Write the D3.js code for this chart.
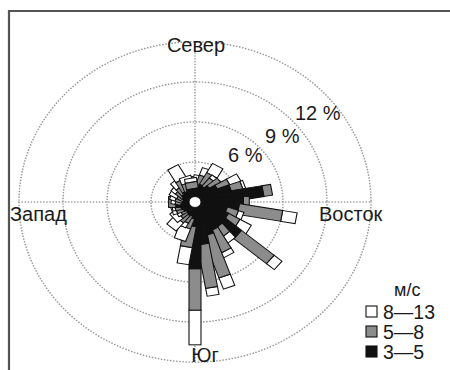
<!DOCTYPE html>
<html><head><meta charset="utf-8">
<script src="https://cdn.jsdelivr.net/npm/d3@7"></script>
<style>body{margin:0;background:#fff}svg{display:block}</style>
</head><body>
<svg id="chart" width="450" height="370"></svg>
<script>
// Wind directions, degrees clockwise from north
const directions = d3.range(0, 360, 10);
// Frequency (%) of each speed class per direction
const speed3to5 = [1.3,1.0,1.2,1.3,1.2,1.4,1.8,2.6,4.7,3.3,3.0,2.2,2.4,3.8,2.4,2.4,2.6,3.2,5.0,1.8,1.2,1.0,1.0,0.9,0.8,0.9,1.0,1.3,0.9,0.8,0.7,0.8,0.9,1.0,0.9,1.0];
const speed5to8 = [0.6,0.6,0.8,1.0,0.8,0.9,0.9,0.8,0.6,0.4,3.0,0.8,0.9,2.9,0.8,1.8,3.3,3.3,3.1,1.6,0.8,0.6,0.7,0.5,0.4,0.5,0.4,0.5,0.4,0.5,0.5,0.6,0.6,0.9,0.6,0.5];
const speed8to13 = [0.0,0.4,0.6,0.8,0.3,0.0,0.8,0.2,0.0,0.0,1.0,0.4,0.9,0.7,0.6,0.4,0.9,0.6,2.6,1.3,1.0,0.4,0.8,0.5,0.3,0.3,0.2,0.0,0.3,0.4,0.6,0.4,0.6,1.1,0.5,0.3];
const ringTicks = [3, 6, 9, 12];
const ringLabels = ["6 %", "9 %", "12 %"];
const compassLabels = ["Север", "Восток", "Юг", "Запад"];
const speedClasses = ["8—13", "5—8", "3—5"];
const legendTitle = "м/с";

const svg = d3.select("#chart");
const cx = 195, cy = 202, squash = 0.91, hole = 6;
const r = d3.scaleLinear().domain([0, 12]).range([0, 176]);
const fill = d3.scaleOrdinal().domain(speedClasses).range(["#ffffff", "#8c8c8c", "#111111"]);

// frame
svg.append("path").attr("d", "M9,372 V11 H452").attr("fill", "none")
  .attr("stroke", "#555").attr("stroke-width", 2.2);

const g = svg.append("g").attr("transform", `translate(${cx},${cy}) scale(1,${squash})`);

// grid rings and crosshair
g.selectAll("circle.ring").data(ringTicks).join("circle").attr("class", "ring")
  .attr("r", d => r(d)).attr("fill", "none")
  .attr("stroke", "#999").attr("stroke-width", 1.7)
  .attr("stroke-dasharray", "0.1 3").attr("stroke-linecap", "round");
g.selectAll("line.axis").data([0, 90]).join("line").attr("class", "axis")
  .attr("transform", d => `rotate(${d})`)
  .attr("x1", -r(12)).attr("x2", r(12)).attr("y1", 0).attr("y2", 0)
  .attr("stroke", "#999").attr("stroke-width", 1.7)
  .attr("stroke-dasharray", "0.1 3").attr("stroke-linecap", "round");

// stacked bars, one per direction
const barW = 12;
const rows = directions.map((dir, i) => {
  const a = speed3to5[i], b = speed5to8[i], c = speed8to13[i];
  return {dir, segs: [
    {k: "3—5", v0: 0, v1: a},
    {k: "5—8", v0: a, v1: a + b},
    {k: "8—13", v0: a + b, v1: a + b + c}
  ].filter(s => s.v1 > s.v0)};
});
const bars = g.selectAll("g.dir").data(rows).join("g").attr("class", "dir")
  .attr("transform", d => `rotate(${d.dir - 90})`);
bars.selectAll("rect").data(d => d.segs.slice().reverse()).join("rect")
  .attr("x", s => Math.max(hole, r(s.v0)))
  .attr("width", s => r(s.v1) - Math.max(hole, r(s.v0)))
  .attr("y", -barW / 2).attr("height", barW)
  .attr("fill", s => fill(s.k)).attr("stroke", "#111").attr("stroke-width", 1.1);
g.append("circle").attr("r", hole).attr("fill", "#fff").attr("stroke", "#111").attr("stroke-width", 1);

// text
const font = "Liberation Sans, Arial, sans-serif";
const txt = (x, y, s, size, anchor) => svg.append("text").attr("x", x).attr("y", y)
  .attr("font-family", font).attr("font-size", size).attr("fill", "#1a1a1a")
  .attr("text-anchor", anchor || "start").text(s);
txt(196, 52, compassLabels[0], 20, "middle");
txt(319, 221, compassLabels[1], 20);
txt(205, 362, compassLabels[2], 20, "middle");
txt(10, 221, compassLabels[3], 20);
const labelPos = [[228, 162], [265, 143], [295, 120]];
ringLabels.forEach((s, i) => txt(labelPos[i][0], labelPos[i][1], s, 20));

// legend
txt(394, 296, legendTitle, 18);
speedClasses.forEach((k, i) => {
  const y = 306 + i * 20;
  svg.append("rect").attr("x", 366).attr("y", y).attr("width", 11).attr("height", 11)
    .attr("fill", fill(k)).attr("stroke", "#111").attr("stroke-width", 1.1);
  txt(383, y + 13, k, 19.5);
});
</script>
</body></html>
